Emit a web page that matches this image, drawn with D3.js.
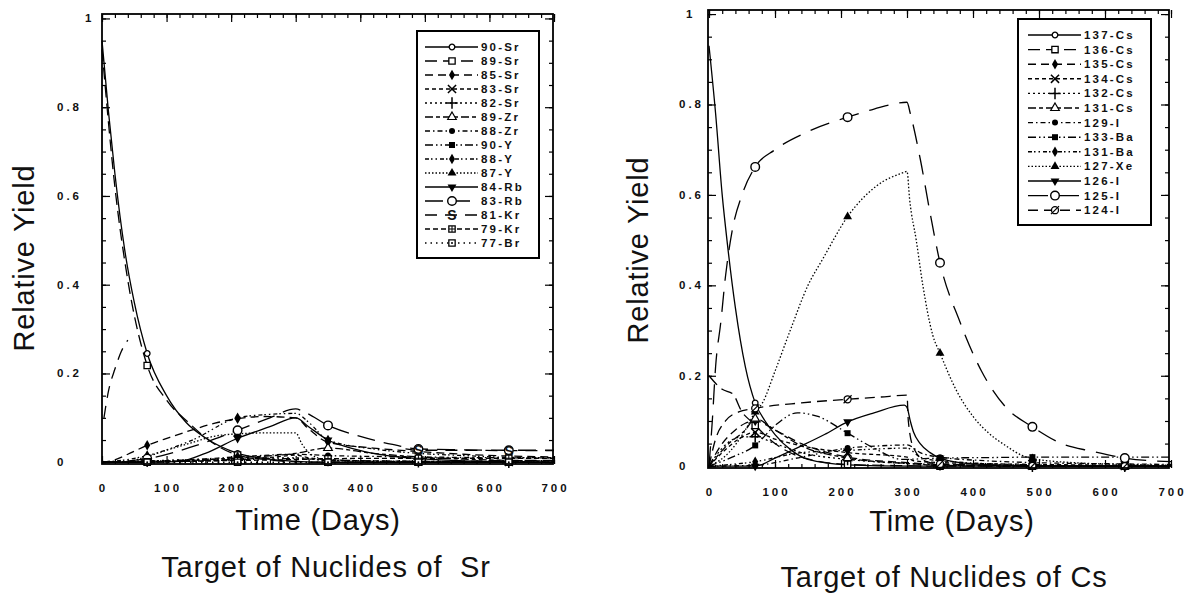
<!DOCTYPE html>
<meta charset="utf-8">
<style>
body { margin: 0; background: #fff; }
svg text { font-family: "Liberation Sans", Arial, sans-serif; fill: #111; }
.tlab { font-size: 11.5px; font-weight: bold; letter-spacing: 3px; }
.title { font-size: 29px; letter-spacing: 0.8px; white-space: pre; }
.leg { font-size: 11.5px; font-weight: bold; letter-spacing: 2.2px; }
</style>
<body>
  <div id="box1"></div>
</body>

<script src="https://d3js.org/d3.v7.min.js"></script>
<script>

var width = 1199, height = 593;

// shared axes
var dayTicks = [0, 100, 200, 300, 400, 500, 600, 700];
var yieldTicks = [0, 0.2, 0.4, 0.6, 0.8, 1];
var markerDays = [70, 210, 350, 490, 630];

// ---- target Sr ----
var srNames = ["90-Sr", "89-Sr", "85-Sr", "83-Sr", "82-Sr", "89-Zr", "88-Zr", "90-Y",
               "88-Y", "87-Y", "84-Rb", "83-Rb", "81-Kr", "79-Kr", "77-Br"];

var sr90 = [[0,.95],[10,.79],[20,.65],[35,.48],[50,.36],[70,.245],[100,.15],[130,.09],[160,.055],[210,.02],[260,.007],[300,.002],[350,0],[490,0],[630,0],[700,0]];
var sr89 = [[0,.93],[20,.62],[40,.41],[70,.218],[100,.14],[135,.088],[170,.045],[210,.016],[260,.005],[300,.001],[350,0],[490,0],[630,.004],[700,.004]];
var sr85 = [[0,0],[17,.004],[40,.018],[70,.038],[105,.056],[140,.073],[175,.088],[210,.098],[250,.103],[300,.1],[320,.075],[350,.045],[420,.032],[490,.024],[560,.018],[630,.014],[700,.012]];
var sr83 = [[0,0],[140,.002],[210,.006],[270,.012],[300,.016],[320,.01],[350,.006],[420,.003],[490,.002],[630,.001],[700,0]];
var sr82 = [[0,0],[70,.003],[140,.006],[210,.008],[300,.01],[350,.004],[490,.001],[630,0],[700,0]];
var zr89 = [[0,0],[70,.001],[140,.004],[210,.01],[300,.02],[350,.032],[420,.02],[490,.012],[560,.007],[630,.004],[700,.003]];
var zr88 = [[0,0],[70,.002],[140,.006],[210,.012],[300,.018],[350,.015],[490,.012],[630,.01],[700,.01]];
var y90  = [[0,0],[70,.002],[140,.004],[210,.006],[300,.008],[350,.005],[490,.002],[630,.001],[700,0]];
var y88  = [[0,0],[35,.005],[70,.015],[140,.05],[210,.1],[260,.108],[300,.11],[320,.09],[350,.05],[420,.03],[490,.02],[560,.015],[630,.011],[700,.01]];
var y87  = [[0,0],[40,.002],[70,.013],[100,.027],[137,.043],[172,.058],[210,.064],[250,.066],[300,.066],[310,.04],[330,.012],[350,.005],[420,.002],[490,.001],[630,0],[700,0]];
var rb84 = [[0,0],[70,0],[120,.002],[160,.02],[210,.054],[260,.08],[300,.1],[320,.08],[350,.05],[380,.034],[420,.02],[490,.008],[560,.003],[630,.001],[700,0]];
var rb83 = [[0,0],[70,.008],[140,.035],[210,.072],[260,.1],[300,.12],[315,.112],[350,.083],[400,.058],[450,.04],[490,.03],[560,.028],[630,.027],[700,.027]];
var kr81 = [[3,.1],[10,.16],[20,.21],[30,.25],[40,.275],[45,null],[470,.03],[490,.027],[560,.027],[630,.026],[700,.026]];
var kr79 = [[0,0],[70,.001],[210,.004],[300,.006],[350,.008],[490,.009],[630,.009],[700,.009]];
var br77 = [[0,0],[70,0],[210,0],[350,0],[490,0],[630,0],[700,0]];

var srSeries = [sr90, sr89, sr85, sr83, sr82, zr89, zr88, y90, y88, y87, rb84, rb83, kr81, kr79, br77];

// ---- target Cs ----
var csNames = ["137-Cs", "136-Cs", "135-Cs", "134-Cs", "132-Cs", "131-Cs", "129-I",
               "133-Ba", "131-Ba", "127-Xe", "126-I", "125-I", "124-I"];

var cs137 = [[0,.93],[10,.78],[20,.6],[28,.49],[40,.35],[55,.22],[70,.14],[85,.1],[100,.07],[125,.035],[150,.015],[210,.003],[300,0],[350,0],[490,0],[630,0],[700,0]];
var cs136 = [[0,.2],[20,.17],[36,.16],[50,.12],[63,.1],[70,.09],[100,.05],[140,.02],[210,.004],[300,.001],[350,0],[490,0],[630,0],[700,0]];
var cs135 = [[0,0],[20,.05],[40,.08],[55,.095],[70,.1],[100,.08],[140,.05],[210,.02],[300,.008],[350,.004],[490,.001],[630,0],[700,0]];
var cs134 = [[0,0],[20,.03],[45,.06],[70,.075],[100,.06],[140,.045],[210,.03],[300,.02],[310,.012],[350,.008],[490,.004],[630,.002],[700,.001]];
var cs132 = [[0,0],[20,.04],[50,.065],[70,.065],[100,.05],[140,.03],[210,.015],[300,.006],[350,.003],[490,0],[630,0],[700,0]];
var cs131 = [[0,0],[30,.05],[55,.08],[70,.105],[100,.08],[140,.045],[210,.018],[300,.006],[350,.002],[490,0],[630,0],[700,0]];
var i129  = [[0,0],[70,.002],[140,.02],[210,.04],[260,.045],[300,.047],[320,.03],[350,.02],[420,.012],[490,.008],[630,.005],[700,.004]];
var ba133 = [[0,0],[35,.02],[70,.046],[100,.09],[134,.118],[165,.11],[210,.073],[250,.04],[293,.015],[350,.018],[420,.019],[490,.02],[560,.02],[630,.02],[700,.02]];
var ba131 = [[0,0],[70,.01],[140,.03],[210,.035],[300,.04],[320,.02],[350,.012],[490,.003],[630,.001],[700,0]];
var xe127 = [[0,0],[30,.03],[55,.08],[70,.12],[81,.14],[100,.21],[123,.3],[150,.4],[173,.46],[210,.552],[254,.62],[296,.65],[300,.652],[304,.59],[314,.5],[324,.4],[339,.29],[350,.25],[374,.17],[400,.11],[424,.073],[450,.045],[474,.024],[490,.017],[550,.008],[630,.004],[700,.002]];
var i126  = [[0,0],[70,0],[100,.018],[140,.045],[175,.07],[210,.098],[250,.118],[296,.135],[300,.13],[305,.1],[310,.075],[320,.05],[335,.03],[350,.018],[400,.005],[490,.001],[630,0],[700,0]];
var i125  = [[0,0],[5,.1],[10,.22],[18,.32],[25,.42],[35,.52],[50,.6],[70,.662],[100,.7],[150,.74],[210,.772],[250,.79],[300,.805],[305,.78],[320,.68],[335,.56],[350,.45],[380,.32],[413,.21],[450,.13],[490,.087],[534,.05],[580,.033],[630,.018],[700,.01]];
var i124  = [[0,0],[10,.06],[25,.1],[45,.12],[70,.128],[140,.14],[210,.148],[260,.153],[300,.157],[302,.1],[310,.04],[330,.01],[350,.005],[490,.001],[630,0],[700,0]];

var csSeries = [cs137, cs136, cs135, cs134, cs132, cs131, i129, ba133, ba131, xe127, i126, i125, i124];

// line looks (dash pattern + marker), same order as the names
var srLook = [
  {dash: null, mark: "o"}, {dash: "12,6", mark: "sq"}, {dash: "8,5", mark: "dia"},
  {dash: "4,3", mark: "x"}, {dash: "2,3", mark: "plus"}, {dash: "8,3,4,3", mark: "tri"},
  {dash: "5,3,1.5,3", mark: "dot"}, {dash: "8,3,1.5,3,1.5,3", mark: "sqf"},
  {dash: "4,2,1.5,3,1.5,3", mark: "dia"}, {dash: "1.5,2", mark: "trif"},
  {dash: null, mark: "trid"}, {dash: "18,9", mark: "O"}, {dash: "12,8", mark: "S"},
  {dash: "5,3", mark: "sqplus"}, {dash: "1.5,4", mark: "sqdot"}
];
var csLook = [
  {dash: null, mark: "o"}, {dash: "12,6", mark: "sq"}, {dash: "8,5", mark: "dia"},
  {dash: "4,3", mark: "x"}, {dash: "2,3", mark: "plus"}, {dash: "8,3,4,3", mark: "tri"},
  {dash: "5,3,1.5,3", mark: "dot"}, {dash: "8,3,1.5,3,1.5,3", mark: "sqf"},
  {dash: "4,2,1.5,3,1.5,3", mark: "dia"}, {dash: "1.5,2", mark: "trif"},
  {dash: null, mark: "trid"}, {dash: "20,11", mark: "O"}, {dash: "10,6", mark: "slash"}
];

var svg = d3.select("#box1").append("svg")
    .attr("width", width)
    .attr("height", height)

function drawMark(g, type, x, y) {
  var s = g.append("g").attr("transform", "translate(" + x + "," + y + ")")
  var sym = function(t, size) { return d3.symbol().type(t).size(size)() }
  if (type == "o") s.append("circle").attr("r", 2.8).attr("fill", "#fff").attr("stroke", "#000").attr("stroke-width", 1.3)
  if (type == "O") s.append("circle").attr("r", 4.3).attr("fill", "#fff").attr("stroke", "#000").attr("stroke-width", 1.4)
  if (type == "sq" || type == "sqplus" || type == "sqdot")
    s.append("path").attr("d", sym(d3.symbolSquare, 40)).attr("fill", "#fff").attr("stroke", "#000").attr("stroke-width", 1.3)
  if (type == "sqplus") s.append("path").attr("d", "M-3,0H3M0,-3V3").attr("stroke", "#000")
  if (type == "sqdot") s.append("circle").attr("r", 1).attr("fill", "#000")
  if (type == "dia") s.append("path").attr("d", sym(d3.symbolDiamond, 32)).attr("fill", "#000")
  if (type == "x") s.append("path").attr("d", sym(d3.symbolTimes, 45)).attr("fill", "none").attr("stroke", "#000").attr("stroke-width", 1.5)
  if (type == "plus") s.append("path").attr("d", sym(d3.symbolPlus, 45)).attr("fill", "none").attr("stroke", "#000").attr("stroke-width", 1.5)
  if (type == "tri") s.append("path").attr("d", sym(d3.symbolTriangle, 32)).attr("fill", "#fff").attr("stroke", "#000").attr("stroke-width", 1.2)
  if (type == "trif") s.append("path").attr("d", sym(d3.symbolTriangle, 34)).attr("fill", "#000")
  if (type == "trid") s.append("path").attr("d", sym(d3.symbolTriangle, 34)).attr("fill", "#000").attr("transform", "rotate(180)")
  if (type == "dot") s.append("circle").attr("r", 3).attr("fill", "#000")
  if (type == "sqf") s.append("path").attr("d", sym(d3.symbolSquare, 36)).attr("fill", "#000")
  if (type == "slash") {
    s.append("circle").attr("r", 3.5).attr("fill", "#fff").attr("stroke", "#000").attr("stroke-width", 1.3)
    s.append("path").attr("d", "M-4,4L4,-4").attr("stroke", "#000").attr("stroke-width", 1.2)
  }
  if (type == "S") s.append("text").attr("text-anchor", "middle").attr("y", 5)
      .style("font-size", "14px").style("font-weight", "bold").text("S")
}

function drawPanel(p) {
  var x = d3.scaleLinear([0, 700], p.xRange)
  var y = d3.scaleLinear([-0.004, p.yTop], [p.frame[3], p.frame[1]])
  var g = svg.append("g")

  // curves
  var line = d3.line()
      .defined(d => d[1] !== null)
      .x(d => x(d[0]))
      .y(d => y(d[1]))
      .curve(d3.curveMonotoneX)

  p.series.forEach(function(s, i) {
    g.append("path")
      .attr("d", line(s))
      .attr("fill", "none")
      .attr("stroke", "#000")
      .attr("stroke-width", 1.3)
      .attr("stroke-dasharray", p.look[i].dash)
  })
  p.series.forEach(function(s, i) {
    s.filter(d => d[1] !== null && markerDays.indexOf(d[0]) >= 0)
     .forEach(d => drawMark(g, p.look[i].mark, x(d[0]), y(d[1])))
  })

  // frame and inward ticks on all four sides
  g.append("rect")
    .attr("x", p.frame[0]).attr("y", p.frame[1])
    .attr("width", p.frame[2] - p.frame[0]).attr("height", p.frame[3] - p.frame[1])
    .attr("fill", "none").attr("stroke", "#000").attr("stroke-width", 1.8)

  var minorY = d3.range(0, 1.001, 0.05)
  var minorX = d3.range(0, 701, 20)
  var sides = [
    [d3.axisRight(y), "translate(" + p.frame[0] + ",0)", yieldTicks, minorY],
    [d3.axisLeft(y), "translate(" + p.frame[2] + ",0)", yieldTicks, minorY],
    [d3.axisBottom(x), "translate(0," + p.frame[1] + ")", dayTicks, minorX],
    [d3.axisTop(x), "translate(0," + p.frame[3] + ")", dayTicks, minorX]
  ]
  sides.forEach(function(sd) {
    [[sd[3], 4], [sd[2], 8]].forEach(function(tk) {
      var ax = g.append("g").attr("transform", sd[1])
        .call(sd[0].tickValues(tk[0]).tickSize(tk[1]).tickFormat(""))
      ax.select(".domain").remove()
      ax.selectAll("line").attr("stroke-width", 1.2)
    })
  })

  // tick labels
  g.selectAll(".xl")
    .data(dayTicks)
    .join("text")
      .attr("class", "tlab")
      .attr("x", d => x(d) + 1.5)
      .attr("y", p.xLabelY)
      .attr("text-anchor", "middle")
      .text(d => d)
  g.selectAll(".yl")
    .data(yieldTicks)
    .join("text")
      .attr("class", "tlab")
      .attr("x", d => d == 1 ? p.oneX : p.yLabelX)
      .attr("y", d => y(d) + 4)
      .text(d => d == 0 || d == 1 ? d : "0." + Math.round(d * 10))

  // legend
  var lg = p.legend
  g.append("rect")
    .attr("x", lg.box[0]).attr("y", lg.box[1])
    .attr("width", lg.box[2] - lg.box[0]).attr("height", lg.box[3] - lg.box[1])
    .attr("fill", "#fff").attr("stroke", "#000").attr("stroke-width", 2)
  p.names.forEach(function(name, i) {
    var ry = lg.row0 + i * lg.step
    g.append("line")
      .attr("x1", lg.x0).attr("x2", lg.x0 + 53).attr("y1", ry).attr("y2", ry)
      .attr("stroke", "#000").attr("stroke-width", 1.4)
      .attr("stroke-dasharray", p.look[i].dash)
    drawMark(g, p.look[i].mark, lg.x0 + 27, ry)
    g.append("text").attr("class", "leg")
      .attr("x", lg.x0 + 56).attr("y", ry + 4)
      .text(name)
  })

  // titles
  g.append("text").attr("class", "title")
    .attr("transform", "translate(" + p.yTitle[0] + "," + p.yTitle[1] + ") rotate(-90)")
    .attr("text-anchor", "middle")
    .text("Relative Yield")
  g.append("text").attr("class", "title")
    .attr("x", p.xTitle[0]).attr("y", p.xTitle[1])
    .attr("text-anchor", "middle")
    .text("Time (Days)")
  g.append("text").attr("class", "title")
    .attr("x", p.caption[0]).attr("y", p.caption[1])
    .attr("text-anchor", "middle")
    .text(p.captionText)
}

drawPanel({
  series: srSeries, names: srNames, look: srLook,
  frame: [102, 14, 553, 464], xRange: [102, 554], yTop: 1.01,
  xLabelY: 492, yLabelX: 57, oneX: 85,
  legend: {box: [417, 31, 539, 258], row0: 47, step: 14, x0: 425},
  yTitle: [34, 258], xTitle: [318, 530], caption: [326, 577],
  captionText: "Target of Nuclides of  Sr"
})

drawPanel({
  series: csSeries, names: csNames, look: csLook,
  frame: [708, 10, 1169, 468], xRange: [709, 1171], yTop: 1.009,
  xLabelY: 496, yLabelX: 679, oneX: 686,
  legend: {box: [1018, 19, 1151, 225], row0: 35, step: 14.6, x0: 1028},
  yTitle: [648, 250], xTitle: [952, 531], caption: [944, 587],
  captionText: "Target of Nuclides of Cs"
})

</script>
